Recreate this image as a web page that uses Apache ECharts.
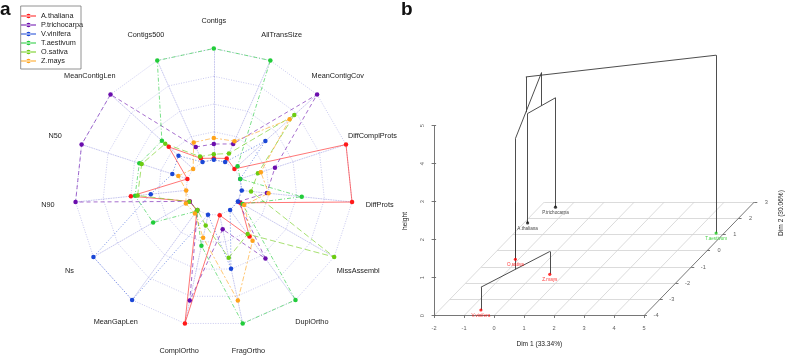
<!DOCTYPE html>
<html><head><meta charset="utf-8">
<script src="https://cdn.jsdelivr.net/npm/echarts@6/dist/echarts.min.js"></script>
<style>html,body{margin:0;padding:0;background:#fff}#c{width:785px;height:355px}</style>
</head><body><div id="c"></div>
<script>
// ---------- Panel a: radar data (normalised 0..1) ----------
const indicators = ['Contigs','Contigs500','MeanContigLen','N50','N90','Ns','MeanGapLen','ComplOrtho','FragOrtho','DuplOrtho','MissAssembl','DiffProts','DiffComplProts','MeanContigCov','AllTransSize'];
const species = ['A.thaliana','P.trichocarpa','V.vinifera','T.aestivum','O.sativa','Z.mays'];
const athaliana    = [0.013,0.037,0.296,0.000,0.500,0.000,0.008,1.000,0.005,0.296,0.025,1.000,1.000,0.000,0.036];
const ptrichocarpa = [0.141,0.149,1.000,1.000,1.000,0.000,0.000,0.790,0.134,0.540,0.005,0.230,0.328,1.000,0.179];
const vvinifera    = [0.000,0.000,0.177,0.142,0.320,1.000,1.000,0.000,0.496,0.000,0.000,0.003,0.000,0.374,0.000];
const taestivum    = [1.000,1.000,0.378,0.454,0.462,0.380,0.013,0.285,1.000,1.000,0.049,0.545,0.000,0.037,1.000];
const osativa      = [0.049,0.054,0.338,0.432,0.439,0.005,0.000,0.100,0.395,0.268,1.000,0.087,0.167,0.724,0.085];
const zmays        = [0.195,0.194,0.000,0.086,0.000,0.040,0.039,0.211,0.790,0.343,0.065,0.245,0.195,0.667,0.206];
const radarValues = [athaliana, ptrichocarpa, vvinifera, taestivum, osativa, zmays];
const radarColors = ['#ff1a1a','#6a0dad','#1a46d6','#22cc3a','#6ccc12','#ffa31a'];
const radarDash = ['solid',[4,3],[1,2],[1,2,4,2],[6,3],[2,2,5,2]];

// ---------- Panel b: 3D dendrogram data ----------
const leafNames = ['V.vinifera','O.sativa','Z.mays','A.thaliana','P.trichocarpa','T.aestivum'];
const leafDim1  = [-0.62,-1.11,0.52,-1.88,-1.46,4.73];
const leafDim2  = [-3.65,-0.53,-1.45,1.71,2.68,1.09];
const leafColor = ['#ff0000','#ff0000','#ff0000','#111111','#111111','#19c819'];
// hclust-style merges: negative = leaf (-(index+1)), positive = earlier merge (1-based)
const mergeA = [-1, 1, -4, 2, 4];
const mergeB = [-3, -2, -5, 3, -6];
const mergeHeight = [0.60, 1.50, 2.88, 3.75, 4.68];
const dim1Ticks = [-2,-1,0,1,2,3,4,5];
const dim2Ticks = [-4,-3,-2,-1,0,1,2,3];
const heightTicks = [0,1,2,3,4,5];

// projection of (dim1, dim2, height) onto the page plane
const dim2Min = -4, KX = 0.5253, KY = 0.4274;
function proj(d1, d2, h){ return [d1 + KX*(d2 - dim2Min), h + KY*(d2 - dim2Min)]; }

// node positions (centroids of member leaves)
function members(c){ return c < 0 ? [-c-1] : members(mergeA[c-1]).concat(members(mergeB[c-1])); }
function nodePos(c){
  const m = members(c);
  const d1 = m.reduce((s,i)=>s+leafDim1[i],0)/m.length;
  const d2 = m.reduce((s,i)=>s+leafDim2[i],0)/m.length;
  return [d1, d2];
}
function nodeH(c){ return c < 0 ? 0 : mergeHeight[c-1]; }
const dendLines = [];
for (let k = 0; k < mergeA.length; k++){
  const H = mergeHeight[k];
  const pa = nodePos(mergeA[k]), pb = nodePos(mergeB[k]);
  [[mergeA[k],pa],[mergeB[k],pb]].forEach(([c,p]) => {
    dendLines.push({coords:[proj(p[0],p[1],nodeH(c)), proj(p[0],p[1],H)]});
  });
  dendLines.push({coords:[proj(pa[0],pa[1],H), proj(pb[0],pb[1],H)]});
}
const d1Min = dim1Ticks[0], d1Max = dim1Ticks[dim1Ticks.length-1];
const d2Max = dim2Ticks[dim2Ticks.length-1];
const hMax = heightTicks[heightTicks.length-1];
const planeLines = [];
dim1Ticks.slice(0,-1).forEach(t => planeLines.push({coords:[proj(t,dim2Min,0), proj(t,d2Max,0)]}));
dim2Ticks.slice(1).forEach(t => planeLines.push({coords:[proj(d1Min,t,0), proj(d1Max,t,0)]}));
const axisLines = [
  {coords:[proj(d1Min,dim2Min,0), proj(d1Max,dim2Min,0)]},
  {coords:[proj(d1Max,dim2Min,0), proj(d1Max,d2Max,0)]},
  {coords:[proj(d1Min,dim2Min,0), proj(d1Min,dim2Min,hMax)]}
];
dim1Ticks.forEach(t => { const p = proj(t,dim2Min,0); axisLines.push({coords:[p,[p[0],p[1]-0.06]]}); });
dim2Ticks.forEach(t => { const p = proj(d1Max,t,0); axisLines.push({coords:[p,[p[0]+0.1,p[1]]]}); });
heightTicks.forEach(t => { const p = proj(d1Min,dim2Min,t); axisLines.push({coords:[[p[0]-0.08,p[1]],[p[0]+0.07,p[1]]]}); });

const FONT = 'Liberation Sans, Arial, sans-serif';
const cx = 213.8, cy = 187.5, R = 139;

const chart = echarts.init(document.getElementById('c'), null, {renderer:'canvas'});

const radarSeries = species.map((s,i) => ({
  type:'radar', name:s, radarIndex:0, z:10,
  symbol:'circle', symbolSize:4.5,
  itemStyle:{color:radarColors[i]},
  lineStyle:{color:radarColors[i], width:1, type:radarDash[i], opacity:0.6},
  data:[{name:s, value:radarValues[i]}]
}));

const labelGraphics = indicators.map((n,i) => {
  const a = (90 + 360*i/indicators.length) * Math.PI/180;
  return {type:'text', x: cx + 1.2*R*Math.cos(a), y: cy - 1.2*R*Math.sin(a), z:20,
    style:{text:n, fill:'#222', font:'7.3px '+FONT, align:'center', verticalAlign:'middle'}};
});

const option = {
  backgroundColor:'#fff',
  animation:false,
  textStyle:{fontFamily:FONT},
  legend:{
    orient:'vertical', left:21, top:11.5, padding:0, itemGap:0,
    itemWidth:15, itemHeight:5,
    icon:'path://M0,2.1h15v0.8h-15z M5.3,2.5a2.2,2.2 0 1,0 4.4,0a2.2,2.2 0 1,0 -4.4,0z',
    textStyle:{fontSize:7.3, color:'#222', fontFamily:FONT, lineHeight:9},
    data:species, selectedMode:false
  },
  radar:{
    center:[cx,cy], radius:R, startAngle:90, shape:'polygon', splitNumber:5, z:1,
    indicator: indicators.map(n => ({name:n, min:-0.25, max:1})),
    axisName:{show:false},
    splitArea:{show:false},
    splitLine:{lineStyle:{color:'rgba(120,120,215,0.5)', type:[1,1.5], width:0.8}},
    axisLine:{lineStyle:{color:'rgba(120,120,215,0.5)', type:[1,1.5], width:0.8}},
    axisTick:{show:false}, axisLabel:{show:false}
  },
  grid:{left:404, top:11.7, width:375, height:342},
  xAxis:{type:'value', min:-3, max:9.5, show:false},
  yAxis:{type:'value', min:-1, max:8, show:false},
  series: radarSeries.concat([
    {type:'lines', coordinateSystem:'cartesian2d', z:2, silent:true,
     lineStyle:{color:'#d2d2d2', width:0.8, opacity:1, curveness:0}, data:planeLines},
    {type:'lines', coordinateSystem:'cartesian2d', z:3, silent:true,
     lineStyle:{color:'#666', width:0.9, opacity:1, curveness:0}, data:axisLines},
    {type:'lines', coordinateSystem:'cartesian2d', z:4, silent:true,
     lineStyle:{color:'#3a3a3a', width:0.9, opacity:1, curveness:0}, data:dendLines},
    {type:'scatter', z:5, clip:false, symbolSize:3.2,
     data: leafNames.map((n,i) => ({name:n, value:proj(leafDim1[i],leafDim2[i],0),
       itemStyle:{color:leafColor[i]}, label:{color:leafColor[i]}})),
     label:{show:true, position:'bottom', distance:1.5, fontSize:4.6, fontFamily:FONT, formatter:'{b}'}},
    {type:'scatter', z:5, clip:false, symbolSize:0, itemStyle:{color:'transparent'},
     data: dim1Ticks.map(t => ({name:String(t), value:proj(t,dim2Min,0)})),
     label:{show:true, position:'inside', offset:[0,12.6], fontSize:5.6, color:'#333', fontFamily:FONT, formatter:'{b}'}},
    {type:'scatter', z:5, clip:false, symbolSize:0, itemStyle:{color:'transparent'},
     data: dim2Ticks.map(t => ({name:String(t), value:proj(d1Max,t,0)})),
     label:{show:true, position:'inside', offset:[12,0], fontSize:5.6, color:'#333', fontFamily:FONT, formatter:'{b}'}},
    {type:'scatter', z:5, clip:false, symbolSize:0, itemStyle:{color:'transparent'},
     data: heightTicks.map(t => ({name:String(t), value:proj(d1Min,dim2Min,t)})),
     label:{show:true, position:'inside', offset:[0,-12], rotate:90, fontSize:5.6, color:'#333', fontFamily:FONT, formatter:'{b}'}}
  ]),
  graphic:[
    {type:'circle', shape:{cx:cx, cy:cy, r:25.5}, style:{fill:'#fff'}, z:5, silent:true},
    {type:'rect', shape:{x:20.7, y:6, width:60.3, height:63}, style:{fill:'none', stroke:'#777', lineWidth:0.8}, z:20, silent:true},
    {type:'text', x:0, y:0, z:20, style:{text:'a', fill:'#111', font:'bold 19px '+FONT}},
    {type:'text', x:401, y:0, z:20, style:{text:'b', fill:'#111', font:'bold 19px '+FONT}},
    {type:'text', x:539.3, y:344, z:20, style:{text:'Dim 1 (33.34%)', fill:'#222', font:'6.6px '+FONT, align:'center', verticalAlign:'middle'}},
    {type:'text', x:781.5, y:213, rotation:Math.PI/2, z:20, style:{text:'Dim 2 (30.06%)', fill:'#222', font:'6.6px '+FONT, align:'center', verticalAlign:'middle'}},
    {type:'text', x:405, y:221, rotation:Math.PI/2, z:20, style:{text:'height', fill:'#222', font:'6.6px '+FONT, align:'center', verticalAlign:'middle'}}
  ].concat(labelGraphics)
};
chart.setOption(option);
</script>
</body></html>
